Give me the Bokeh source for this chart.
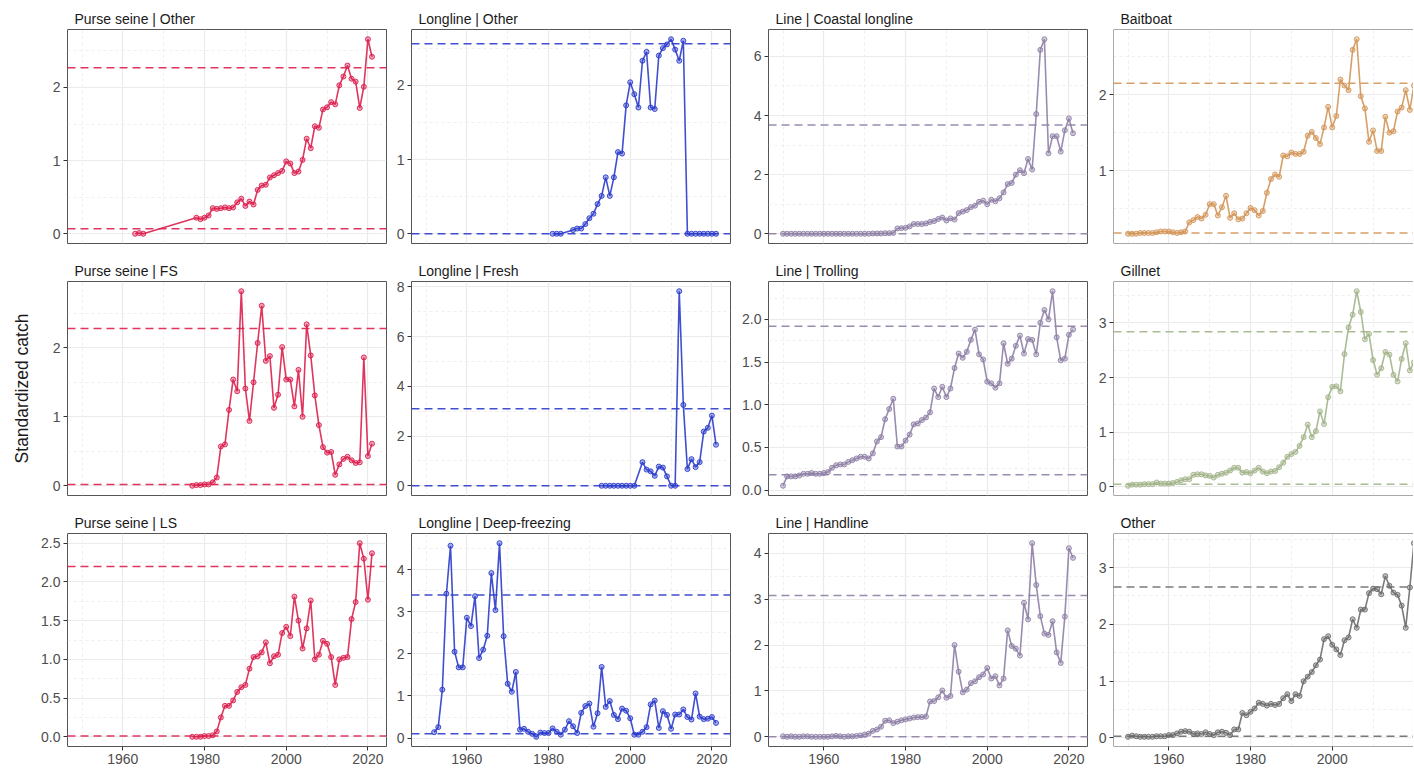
import math
from bokeh.plotting import figure
from bokeh.layouts import column, row
from bokeh.models import Span, FixedTicker, Range1d, PrintfTickFormatter
from bokeh.embed import file_html
from bokeh.resources import INLINE

# ---------------- data ----------------
Y_FULL = list(range(1950, 2022))

ps_other_years = [1963, 1964, 1965] + list(range(1978, 2022))
ps_other_vals = [0.00, 0.01, 0.00,
                 0.22, 0.20, 0.22, 0.25, 0.35, 0.34, 0.35, 0.36, 0.35, 0.36,
                 0.43, 0.48, 0.38, 0.44, 0.40, 0.60, 0.66, 0.67, 0.77, 0.80,
                 0.83, 0.86, 0.99, 0.96, 0.83, 0.85, 1.01, 1.30, 1.17, 1.47,
                 1.45, 1.70, 1.73, 1.80, 1.77, 2.03, 2.15, 2.30, 2.12, 2.08,
                 1.72, 2.01, 2.66, 2.42]
ps_other_ref = [0.07, 2.27]

ll_other_years = [1981, 1982, 1983] + list(range(1986, 2022))
ll_other_vals = [0, 0, 0,
                 0.05, 0.07, 0.07, 0.13, 0.21, 0.27, 0.40, 0.51, 0.76, 0.51,
                 0.76, 1.10, 1.08, 1.73, 2.04, 1.88, 1.70, 2.33, 2.45, 1.70,
                 1.68, 2.40, 2.50, 2.55, 2.62, 2.48, 2.33, 2.60, 0, 0,
                 0, 0, 0, 0, 0, 0]
ll_other_ref = [0.0, 2.56]

coastal_years = Y_FULL
coastal_vals = [0] * 20 + [0.0, 0.0, 0.01, 0.01, 0.01, 0.02, 0.02, 0.03] + [
    0.18, 0.19, 0.20, 0.25, 0.33, 0.33, 0.33, 0.35, 0.40, 0.43,
    0.50, 0.55, 0.45, 0.52, 0.48, 0.70, 0.75, 0.80, 0.90, 0.95,
    1.08, 1.12, 1.00, 1.15, 1.10, 1.20, 1.40, 1.68, 1.72, 2.00,
    2.15, 2.05, 2.53, 2.17, 4.05, 6.22, 6.58, 2.72, 3.30, 3.30,
    2.78, 3.50, 3.90, 3.40]
coastal_ref = [0.0, 3.68]

baitboat_years = Y_FULL
baitboat_vals = [0.17, 0.17, 0.17, 0.18, 0.18, 0.18, 0.18, 0.19, 0.20, 0.20,
                 0.20, 0.19, 0.18, 0.19, 0.20,
                 0.32, 0.35, 0.39, 0.37, 0.42, 0.56, 0.56, 0.41, 0.52, 0.67,
                 0.38, 0.44, 0.36, 0.37, 0.44, 0.51, 0.48, 0.41, 0.47, 0.71,
                 0.89, 0.95, 0.92, 1.20, 1.19, 1.24, 1.22, 1.22, 1.25, 1.46,
                 1.51, 1.43, 1.35, 1.57, 1.84, 1.57, 1.72, 2.20, 2.12, 2.06,
                 2.59, 2.73, 1.98, 1.82, 1.38, 1.53, 1.26, 1.26, 1.71, 1.50,
                 1.52, 1.78, 1.83, 2.06, 1.80, 2.12, 2.05]
baitboat_ref = [0.18, 2.15]

ps_fs_years = list(range(1977, 2022))
ps_fs_vals = [0.00, 0.01, 0.01, 0.02, 0.02, 0.05, 0.12,
              0.57, 0.60, 1.10, 1.54, 1.37, 2.82, 1.41, 0.94, 1.50, 2.07,
              2.61, 1.81, 1.88, 1.13, 1.32, 2.01, 1.54, 1.54, 1.15, 1.68,
              1.00, 2.34, 1.89, 1.31, 0.88, 0.56, 0.48, 0.49, 0.16, 0.31,
              0.39, 0.42, 0.37, 0.33, 0.34, 1.86, 0.43, 0.61]
ps_fs_ref = [0.02, 2.28]

ll_fresh_years = list(range(1993, 2002)) + list(range(2003, 2022))
ll_fresh_vals = [0, 0, 0, 0, 0, 0, 0, 0, 0,
                 0.95, 0.65, 0.58, 0.40, 0.77, 0.73, 0.38, 0.0, 0.0, 7.82,
                 3.25, 0.67, 1.07, 0.75, 0.95, 2.18, 2.33, 2.82, 1.65]
ll_fresh_ref = [0.0, 3.10]

trolling_years = Y_FULL
trolling_vals = [0.05, 0.16, 0.16, 0.16, 0.17, 0.19, 0.19, 0.20, 0.19, 0.19,
                 0.20, 0.21, 0.26, 0.29, 0.30, 0.30, 0.33, 0.35, 0.37, 0.39,
                 0.39, 0.37, 0.43, 0.57, 0.62, 0.83, 0.95, 1.07, 0.51, 0.51,
                 0.58, 0.65, 0.77, 0.78, 0.82, 0.85, 0.91, 1.19, 1.09, 1.21,
                 1.09, 1.19, 1.43, 1.60, 1.55, 1.62, 1.76, 1.88, 1.59, 1.53,
                 1.27, 1.25, 1.20, 1.25, 1.72, 1.48, 1.54, 1.69, 1.81, 1.60,
                 1.77, 1.76, 1.59, 1.96, 2.11, 2.00, 2.33, 1.79, 1.52, 1.54,
                 1.82, 1.88]
trolling_ref = [0.18, 1.92]

gillnet_years = Y_FULL
gillnet_vals = [0.02, 0.04, 0.04, 0.04, 0.05, 0.05, 0.05, 0.08, 0.06, 0.06,
                0.06, 0.07, 0.09, 0.12, 0.14, 0.14, 0.22, 0.23, 0.23, 0.21,
                0.20, 0.17, 0.22, 0.24, 0.26, 0.30, 0.35, 0.35, 0.26, 0.27,
                0.25, 0.30, 0.35, 0.28, 0.25, 0.28, 0.29, 0.36, 0.44, 0.55,
                0.60, 0.64, 0.75, 0.91, 1.14, 0.91, 1.02, 1.38, 1.15, 1.64,
                1.83, 1.84, 1.75, 2.43, 2.92, 3.15, 3.58, 3.20, 2.70, 2.80,
                2.32, 2.05, 2.17, 2.47, 2.42, 2.05, 1.93, 2.34, 2.63, 2.13,
                2.28, 2.40]
gillnet_ref = [0.05, 2.84]

ps_ls_years = list(range(1977, 2022))
ps_ls_vals = [0.00, 0.00, 0.00, 0.01, 0.01, 0.02, 0.07,
              0.25, 0.40, 0.40, 0.47, 0.58, 0.64, 0.67, 0.88, 1.03, 1.04,
              1.09, 1.22, 0.95, 1.04, 1.06, 1.34, 1.42, 1.30, 1.81, 1.50,
              1.14, 1.40, 1.76, 1.00, 1.06, 1.24, 1.20, 1.03, 0.67, 1.00,
              1.02, 1.03, 1.52, 1.74, 2.50, 2.30, 1.77, 2.37]
ps_ls_ref = [0.01, 2.20]

ll_deep_years = list(range(1952, 2022))
ll_deep_vals = [0.14, 0.26, 1.15, 3.43, 4.57, 2.05, 1.68, 1.68,
                2.86, 2.66, 3.37, 1.90, 2.10, 2.43, 3.92, 3.04, 4.63, 2.42,
                1.29, 1.10, 1.57, 0.20, 0.22, 0.15, 0.10, 0.03, 0.13, 0.12,
                0.12, 0.23, 0.15, 0.08, 0.20, 0.40, 0.28, 0.12, 0.60, 0.76,
                0.82, 0.27, 0.59, 1.69, 0.74, 0.88, 0.55, 0.45, 0.70, 0.65,
                0.47, 0.08, 0.08, 0.15, 0.26, 0.80, 0.89, 0.24, 0.64, 0.55,
                0.22, 0.56, 0.56, 0.68, 0.50, 0.44, 1.06, 0.51, 0.45, 0.46,
                0.50, 0.36]
ll_deep_ref = [0.10, 3.40]

handline_years = Y_FULL
handline_vals = [0.01, 0.00, 0.01, 0.00, 0.00, 0.01, 0.01, 0.00, 0.00, 0.00,
                 0.00, 0.00, 0.01, 0.02, 0.01, 0.00, 0.01, 0.01, 0.02, 0.03,
                 0.05, 0.07, 0.13, 0.16, 0.22, 0.35, 0.36, 0.30, 0.33, 0.36,
                 0.38, 0.40, 0.42, 0.43, 0.43, 0.44, 0.77, 0.78, 0.86, 1.01,
                 0.85, 0.89, 2.00, 1.42, 0.97, 1.03, 1.17, 1.21, 1.30, 1.36,
                 1.50, 1.27, 1.32, 1.12, 1.27, 2.32, 1.98, 1.92, 1.77, 2.92,
                 2.56, 4.22, 3.31, 2.63, 2.25, 2.22, 2.52, 1.84, 1.61, 2.62,
                 4.11, 3.90]
handline_ref = [0.0, 3.08]

other_years = Y_FULL
other_vals = [0.02, 0.04, 0.03, 0.02, 0.02, 0.02, 0.02, 0.03, 0.03, 0.03,
              0.05, 0.05, 0.08, 0.11, 0.12, 0.11, 0.07, 0.08, 0.07, 0.10,
              0.07, 0.05, 0.10, 0.11, 0.09, 0.05, 0.15, 0.15, 0.44, 0.40,
              0.46, 0.52, 0.62, 0.60, 0.57, 0.60, 0.58, 0.60, 0.70, 0.77,
              0.65, 0.77, 0.74, 1.00, 1.08, 1.16, 1.28, 1.38, 1.74, 1.79,
              1.64, 1.56, 1.46, 1.72, 1.77, 2.09, 1.94, 2.26, 2.26, 2.55,
              2.63, 2.62, 2.53, 2.85, 2.68, 2.56, 2.52, 2.33, 1.94, 2.65,
              3.43, 2.90]
other_ref = [0.03, 2.66]

titles = ["Purse seine | Other", "Longline | Other", "Line | Coastal longline", "Baitboat",
          "Purse seine | FS", "Longline | Fresh", "Line | Trolling", "Gillnet",
          "Purse seine | LS", "Longline | Deep-freezing", "Line | Handline", "Other"]
groups = ["ps", "ll", "line", "bb", "ps", "ll", "line", "gn", "ps", "ll", "line", "ot"]
series = [(ps_other_years, ps_other_vals, ps_other_ref),
          (ll_other_years, ll_other_vals, ll_other_ref),
          (coastal_years, coastal_vals, coastal_ref),
          (baitboat_years, baitboat_vals, baitboat_ref),
          (ps_fs_years, ps_fs_vals, ps_fs_ref),
          (ll_fresh_years, ll_fresh_vals, ll_fresh_ref),
          (trolling_years, trolling_vals, trolling_ref),
          (gillnet_years, gillnet_vals, gillnet_ref),
          (ps_ls_years, ps_ls_vals, ps_ls_ref),
          (ll_deep_years, ll_deep_vals, ll_deep_ref),
          (handline_years, handline_vals, handline_ref),
          (other_years, other_vals, other_ref)]
y_steps = [1, 1, 2, 1, 1, 2, 0.5, 1, 0.5, 1, 1, 1]
x_major = [1960, 1980, 2000, 2020]
x_minor = [1950, 1970, 1990, 2010]

# ---------------- style ----------------
COLORS = {"ps": "#DC1F4E", "ll": "#2B3BCB", "line": "#8E7FA6",
          "bb": "#D39558", "gn": "#A2B48A", "ot": "#6B6B6B"}
FONT = "Liberation Sans"
BORDER = "#555555"

XMIN = min(min(s[0]) for s in series)
XMAX = max(max(s[0]) for s in series)
xpad = 0.05 * (XMAX - XMIN)
x0, x1 = XMIN - xpad, XMAX + xpad

W = 319
TOTAL_W = 1413
scale = W / (x1 - x0)
lefts = [67, 22, 35, 23]
rights = [3, 3, 3, 0]
W4 = TOTAL_W - sum(lefts) - sum(rights) - 3 * W
row_top = [29, 23, 23]
row_h = [214, 214, 213]
row_bottom = [15, 15, 22]


def ticks_for(lo, hi, step):
    major = [k * step for k in range(math.ceil(lo / step - 1e-9), math.floor(hi / step + 1e-9) + 1)]
    minor = [(k + 0.5) * step for k in range(math.floor(lo / step) - 1, math.floor(hi / step) + 1)
             if lo <= (k + 0.5) * step <= hi]
    return major, minor


figs = []
for i, (title, grp, (yrs, vals, refs), step) in enumerate(zip(titles, groups, series, y_steps)):
    r, c = divmod(i, 4)
    color = COLORS[grp]
    fw = W if c < 3 else W4
    top, bottom = row_top[r], row_bottom[r]
    lo = min(min(vals), min(refs))
    hi = max(max(vals), max(refs))
    yp = 0.05 * (hi - lo)
    ylo, yhi = lo - yp, hi + yp
    xend = x1 if c < 3 else x0 + fw / scale
    p = figure(width=lefts[c] + fw + rights[c], height=top + row_h[r] + bottom,
               x_range=Range1d(x0, xend), y_range=Range1d(ylo, yhi),
               output_backend="svg", toolbar_location=None,
               min_border_left=lefts[c], min_border_right=rights[c],
               min_border_top=top, min_border_bottom=bottom,
               background_fill_color="white", border_fill_color="white")
    p.title.text = title
    p.title.align = "left"
    p.title.offset = 7
    p.title.standoff = 5
    p.title.text_font = FONT
    p.title.text_font_size = "14px"
    p.title.text_font_style = "normal"
    p.title.text_color = "#1a1a1a"

    if c < 3:
        p.outline_line_color = BORDER
        p.outline_line_width = 1
    else:
        p.outline_line_color = None
        for loc, dim in [(x0, "height"), (ylo, "width"), (yhi, "width")]:
            p.add_layout(Span(location=loc, dimension=dim, line_color=BORDER, line_width=1))

    ymaj, ymin = ticks_for(ylo, yhi, step)
    yt = FixedTicker(ticks=ymaj, minor_ticks=ymin)
    xt = FixedTicker(ticks=x_major, minor_ticks=x_minor)
    p.yaxis.ticker = yt
    p.xaxis.ticker = xt
    p.ygrid.ticker = yt
    p.xgrid.ticker = xt
    if step < 1:
        p.yaxis.formatter = PrintfTickFormatter(format="%.1f")

    for ax in (p.xaxis[0], p.yaxis[0]):
        ax.axis_line_color = None
        ax.major_tick_in = 0
        ax.major_tick_out = 4
        ax.major_tick_line_color = "#333333"
        ax.minor_tick_line_color = None
        ax.major_label_text_font = FONT
        ax.major_label_text_font_size = "14px"
        ax.major_label_text_color = "#4d4d4d"
        ax.major_label_standoff = 3
    if r < 2:
        p.xaxis.visible = False

    p.grid.grid_line_color = "#ebebeb"
    p.grid.grid_line_width = 1.2
    p.grid.minor_grid_line_color = "#ebebeb"
    p.grid.minor_grid_line_dash = "3 3"
    p.grid.minor_grid_line_width = 0.8

    if i == 4:
        p.yaxis.axis_label = "Standardized catch"
        p.yaxis.axis_label_text_font = FONT
        p.yaxis.axis_label_text_font_size = "17.5px"
        p.yaxis.axis_label_text_font_style = "normal"
        p.yaxis.axis_label_text_color = "#1a1a1a"
        p.yaxis.axis_label_standoff = 18

    for ref in refs:
        p.add_layout(Span(location=ref, dimension="width", line_color=color,
                          line_dash="8 5", line_width=1.5, line_alpha=0.9))
    p.line(yrs, vals, line_color=color, line_width=1.6, line_alpha=0.9)
    p.scatter(yrs, vals, size=5, fill_color=color, fill_alpha=0.4,
              line_color=color, line_width=1.0, line_alpha=0.9)
    figs.append(p)

layout = column(*[row(*figs[r * 4:(r + 1) * 4]) for r in range(3)])
open("out.html", "w").write(file_html(layout, INLINE, "Standardized catch"))
